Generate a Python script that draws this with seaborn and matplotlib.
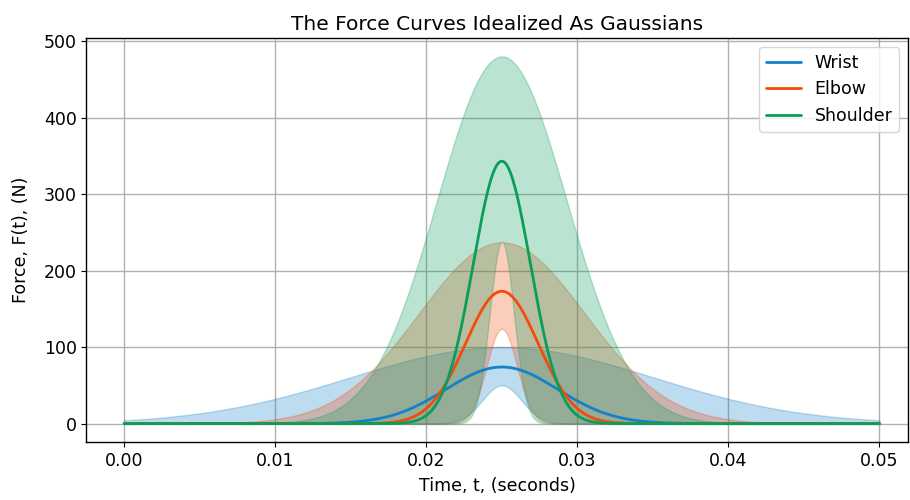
import numpy as np
import pandas as pd
import matplotlib
matplotlib.use("Agg")
import matplotlib.pyplot as plt
import seaborn as sns

# --- gaussian parameters ---
joints = ["Wrist", "Elbow", "Shoulder"]
colors = ["#1482c8", "#f24c0c", "#0a9e5a"]
t_peak = 0.025
peak_mid = [74, 173, 343]
peak_upper = [100, 237, 480]
peak_lower = [50, 124, 238]
sigma_mid = [0.0037, 0.0024, 0.0019]
sigma_upper = [0.0100, 0.0055, 0.0043]
sigma_lower = [0.0013, 0.0010, 0.0008]

t = np.linspace(0, 0.05, 600)


def gauss(a, s):
    return a * np.exp(-(t - t_peak) ** 2 / (2 * s ** 2))


sns.set_style("ticks")
plt.rcParams["font.family"] = ["DejaVu Sans"]
plt.rcParams.update({"text.color": "black", "axes.labelcolor": "black",
                     "xtick.color": "black", "ytick.color": "black"})

fig, ax = plt.subplots(figsize=(9.1, 5), dpi=100)
fig.subplots_adjust(left=0.095, right=0.998, bottom=0.116, top=0.924)

rows = []
for i, name in enumerate(joints):
    lo = gauss(peak_lower[i], sigma_lower[i])
    hi = gauss(peak_upper[i], sigma_upper[i])
    ax.fill_between(t, lo, hi, color=colors[i], alpha=0.28, lw=1,
                    edgecolor=colors[i])
    rows.append(pd.DataFrame({"t": t, "F": gauss(peak_mid[i], sigma_mid[i]),
                              "joint": name}))
df = pd.concat(rows, ignore_index=True)

sns.lineplot(data=df, x="t", y="F", hue="joint", palette=colors, lw=2, ax=ax)

ax.set_xlim(-0.0025, 0.0519)
ax.set_ylim(-24, 504)
ax.set_xticks([0, 0.01, 0.02, 0.03, 0.04, 0.05])
ax.set_xticklabels(["0.00", "0.01", "0.02", "0.03", "0.04", "0.05"])
ax.set_yticks([0, 100, 200, 300, 400, 500])
ax.grid(True, color="#b0b0b0", lw=1)
ax.set_axisbelow(True)
ax.tick_params(labelsize=12.5)
for sp in ax.spines.values():
    sp.set_color("black")
    sp.set_linewidth(1)

ax.set_title("The Force Curves Idealized As Gaussians", fontsize=14.5)
ax.set_xlabel("Time, t, (seconds)", fontsize=12.5, labelpad=5)
ax.set_ylabel("Force, F(t), (N)", fontsize=12.5, labelpad=10)
ax.legend(title=None, loc="upper right", fontsize=12.5)

fig.savefig("out.png", dpi=100)
